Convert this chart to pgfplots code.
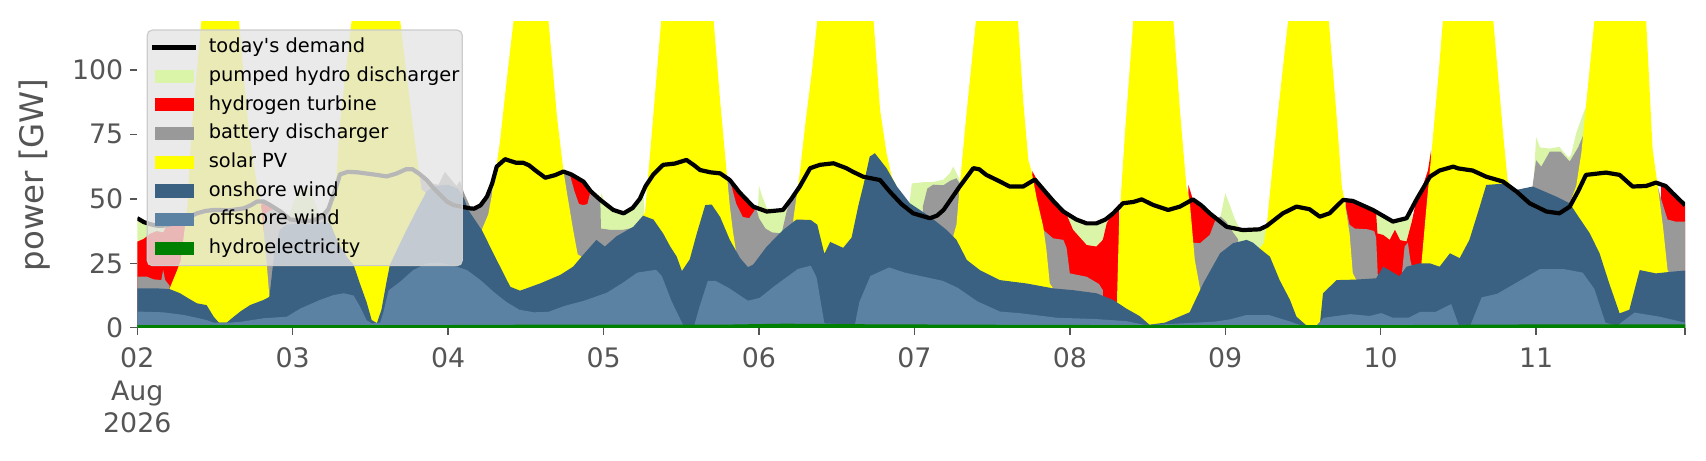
\documentclass[border=0pt]{standalone}
\usepackage{fontspec}
\setmainfont{DejaVu Sans}
\usepackage{pgfplots}
\pgfplotsset{compat=1.18}
\definecolor{phc}{RGB}{219,245,168}
\definecolor{hyc}{RGB}{255,0,0}
\definecolor{bac}{RGB}{153,153,153}
\definecolor{soc}{RGB}{255,255,0}
\definecolor{onc}{RGB}{59,97,130}
\definecolor{ofc}{RGB}{91,130,163}
\definecolor{hdc}{RGB}{0,128,0}
\definecolor{tickc}{RGB}{85,85,85}
\definecolor{legbg}{RGB}{229,229,229}
\definecolor{legedge}{RGB}{204,204,204}
\pgfplotsset{
  patchleg/.style={legend image code/.code={\fill[##1,fill opacity=1,draw=none,sharp corners] (0pt,-3.3pt) rectangle (19.5pt,3.3pt);}},
  lineleg/.style={legend image code/.code={\draw[##1,draw opacity=1,sharp corners] (-1.07pt,0pt) -- (20.57pt,0pt);}},
}
\begin{document}
\begin{tikzpicture}
\begin{axis}[
  scale only axis, width=773.85pt, height=152.9pt,
  xmin=0, xmax=239, ymin=0, ymax=118.6,
  axis lines*=left, axis line style={draw=none},
  tick pos=left, tick align=outside, major tick length=3.5pt,
  tick style={tickc, line width=0.7pt},
  xtick={0,24,48,72,96,120,144,168,192,216,239},
  xticklabels={{02\\Aug\\2026},03,04,05,06,07,08,09,10,11,{}},
  xticklabel style={font=\fontsize{13.4}{16.25}\selectfont, text=tickc, align=center, yshift=-3pt},
  ytick={0,25,50,75,100}, yticklabels={0,25,50,75,100},
  yticklabel style={font=\fontsize{13.4}{15}\selectfont, text=tickc},
  ylabel={power [GW]},
  every axis y label/.style={at={(axis description cs:-0.0661,0.5)}, rotate=90, anchor=center, font=\fontsize{16.2}{19}\selectfont, text=tickc},
  legend style={at={(0,1)}, anchor=north west, xshift=4.7pt, yshift=-3.75pt,
    fill=legbg, fill opacity=0.8, text opacity=1, draw=legedge, draw opacity=1,
    line width=0.6pt, rounded corners=2.5pt,
    font=\fontsize{9.7}{11}\selectfont,
    inner xsep=1.5pt, inner ysep=4.05pt, row sep=5.15pt,
    /tikz/every odd column/.append style={column sep=5.5pt},
    nodes={inner sep=0pt, text height=7.2pt, text depth=2pt}},
  legend cell align=left,
]
\addlegendimage{black, line width=2.1pt, lineleg}
\addlegendentry{today\textquotesingle s demand}
% pumped hydro discharger (cumulative top of stack)
\addplot[patchleg, fill=phc, draw=none] coordinates {
(0,42.3) (1,40.8) (2,40.2) (3,39.8) (4,39.8) (4.5,39.9) (4.6,0)
(23.2,0) (23.3,42.3) (24,48) (25,53) (26.5,55) (27.5,48) (28.2,43.5) (28.3,0)
(71.3,0) (71.4,49.6) (71.7,52.2) (72.2,48) (73.5,45.7) (75.1,44.4) (76.6,46.5) (77.6,49) (78.2,52) (78.4,0)
(95.8,0) (95.85,47) (96,55) (96.5,51) (97.2,46.5) (98.5,45.8) (99.7,46) (100.3,47.5) (100.4,0)
(119.1,0) (119.2,47.5) (119.6,56) (121.5,56.5) (122.9,56.5) (124.5,57.5) (125.5,60) (126,62.5) (126.5,60) (127,57.5) (127.2,0)
(143.4,0) (143.5,43.5) (144.5,42.3) (145,42) (146.6,40.8) (148.1,40.8) (149.5,42) (149.8,43) (149.9,0)
(167.2,0) (167.3,43.5) (168,52.2) (168.8,47) (169.5,42) (170.2,38.8) (172,38.3) (173.3,38.5) (174,39) (174.4,40) (174.5,0)
(191.2,0) (191.3,44.5) (192.4,42.8) (193.9,41.7) (195,42) (196,42.8) (196.8,45) (196.9,0)
(215.6,0) (215.7,60) (216,74) (216.6,70) (218.1,69.5) (219.6,70.2) (221,66) (221.4,67) (222.2,75.5) (223.2,82.6) (223.8,86) (223.9,0)
(239,0)
} \closedcycle;
\addlegendentry{pumped hydro discharger}
% hydrogen turbine
\addplot[patchleg, fill=hyc, draw=none] coordinates {
(0,33.4) (1,34.5) (2,36.5) (3,37.5) (4,37) (4.5,39.5) (5,39.8) (6,40.5) (7,41.2) (7.4,41.5) (7.5,0)
(18.9,0) (19.0,46.5) (19.3,48.8) (20.5,47.6) (21,46.8) (21.3,46.3) (21.4,0)
(66.7,0) (66.8,59.5) (67.5,59.2) (68.9,56.7) (69.5,55) (70,53) (70.1,0)
(91.3,0) (91.4,58.5) (92,56) (93,52.5) (94,49.5) (95.1,47) (95.6,46.5) (95.7,0)
(138.1,0) (138.2,60.8) (138.9,57.5) (140.4,52.2) (141.5,49) (143,45.3) (143.6,43.3) (144.5,38) (146.6,32.1) (148.1,31.5) (149.1,34.1) (149.7,40.5) (150.5,44.2) (151.3,47) (151.6,48) (151.8,0)
(162.2,0) (162.3,55.5) (163,49.8) (164.3,47.5) (165.6,44.4) (166.6,43.5) (166.7,0)
(186.5,0) (186.6,49.5) (187.5,49.3) (188.5,47.5) (190,46) (190.8,45.7) (191.3,44.5) (191.5,36.6) (192.4,36) (193.4,34.1) (194.2,38) (195,34) (196,33.5) (196.8,41) (197.5,49.6) (198.5,55) (199.3,61) (199.8,69) (200.1,0)
(235.2,0) (235.3,55.8) (236,55) (237.1,52.2) (238.7,48.3) (239,47.5)
} \closedcycle;
\addlegendentry{hydrogen turbine}
% battery discharger
\addplot[patchleg, fill=bac, draw=none] coordinates {
(0,19.8) (1.5,19.8) (2.5,18.8) (3.7,18.5) (4,22.4) (4.3,18.5) (5,16.3) (5.1,0)
(19.5,0) (19.6,44) (20.5,45.5) (21.3,46.2) (22.1,45) (23.3,42.3) (25,41.8) (27,41.8) (28,42.5) (28.5,43) (29.5,46) (30.3,50) (30.4,0)
(43.1,0) (43.2,57.5) (44,58.3) (44.7,57.3) (45.5,56) (46.5,55.5) (47.5,60.5) (48.3,58) (49.3,55) (49.8,57) (50.5,52) (51.4,47) (52,46.3) (53,47.5) (54,50.9) (54.8,56) (55.1,0)
(65.5,0) (65.6,61) (66.3,60) (66.8,59.3) (67.5,53) (68.2,48) (68.9,47.6) (69.5,48) (70,53) (71,51) (71.5,49.6) (71.6,38.5) (73,38) (75,38) (76.6,38.8) (77.6,41.5) (77.7,0)
(90.9,0) (91,58) (91.5,57.3) (92.5,48) (93.5,43) (94.5,42.5) (95.3,45.5) (95.6,46.5) (96,42.5) (97,38.5) (98,37) (99.5,36.6) (100.3,45.5) (101,50) (102,54.5) (102.1,0)
(121.2,0) (121.3,47) (122,54) (122.9,55.5) (124.5,55.3) (125.5,57) (126.5,58) (127,56) (127.1,0)
(139,0) (139.1,45) (139.9,38) (141.4,34.7) (143,34.1) (143.5,31) (144,21.1) (146.6,19.8) (148.5,17) (149.1,14.6) (149.2,0)
(162.9,0) (163,33) (164.1,32.8) (165.6,36) (166.6,42.5) (167.3,43.1) (168.2,41) (169.2,37) (170,34.3) (170.1,0)
(186.3,0) (186.4,49.6) (187.2,40) (188,38.5) (190,38.2) (191,37.5) (191.3,35) (191.6,18) (195.2,19) (195.7,31.5) (196.2,33) (196.6,26) (197,22) (197.1,0)
(215.3,0) (215.4,54) (216,65) (216.8,62.5) (218.1,68.3) (219.8,68.3) (221.2,64.5) (222.5,70) (223.5,76) (223.8,0)
(234.7,0) (234.8,54.8) (235.3,50) (236.3,42) (237.5,41.2) (239,41.2)
} \closedcycle;
\addlegendentry{battery discharger}
% solar PV
\addplot[patchleg, fill=soc, draw=none] coordinates {
(0,0) (4.9,0) (5.0,15.3) (6.1,22) (6.7,26) (7.7,46) (8.4,77) (9.9,119) (12.8,150) (15.7,119) (16.5,96) (17.2,77) (18.2,60) (19.2,45.7) (20,24.4) (20.4,12) (20.5,0)
(29.3,0) (29.4,40.5) (30.3,50) (30.8,60) (31.2,77) (32.2,100) (33.1,119) (36.9,155) (40.6,119) (41.6,98) (42.6,77) (43.9,53.5) (44.5,52.5) (44.6,0)
(53.1,0) (53.2,38) (54.2,44) (55,55) (56,72) (57,95) (58.1,119) (60.8,150) (63.5,119) (64.8,82) (65.8,61) (66.5,50) (67.3,38) (68,28.5) (68.6,27.6) (68.7,0)
(78.0,0) (78.1,43.5) (78.4,44.8) (79.2,68) (80,92) (80.9,119) (85,150) (89,119) (90,88) (90.8,66) (91.5,47) (92,37) (92.5,29) (93,27) (93.1,0)
(101.2,0) (101.3,42) (102.3,60) (103.2,80) (104.2,100) (105,119) (109.4,150) (113.7,119) (114.7,84.5) (115.7,67.7) (116.5,58.6) (117.3,54.8) (117.4,0)
(125.9,0) (126,35.5) (126.5,40) (127,55) (128,82) (129.5,119) (132.8,150) (136,119) (136.8,88) (137.6,65) (138.1,60.6) (138.9,50) (139.9,39.2) (140.4,30) (140.9,17.2) (141.4,15.3) (141.5,0)
(151.2,0) (151.3,12) (151.6,40) (152.5,75) (153.8,119) (156.9,150) (160,119) (161,84.5) (162,54.8) (162.5,49.5) (163.3,26.3) (164.1,15.3) (164.4,14) (164.5,0)
(173.2,0) (173.3,30.8) (174,33) (174.5,42) (176,80) (177.7,119) (180.9,150) (184,119) (185.2,82) (186,54.8) (186.4,49.6) (187.2,36.6) (187.7,21.1) (188.2,18.7) (188.3,0)
(198.2,0) (198.3,25) (199,45) (200,72) (201,100) (201.6,119) (205.5,150) (209.4,119) (210.9,75.5) (211.6,57.3) (212,55.5) (212.1,0)
(221.1,0) (221.2,48.3) (222.2,55) (223,68) (223.7,86) (224.3,101) (225,119) (229,150) (233,119) (234,69) (234.8,54.8) (235.6,39.2) (236.3,22.4) (236.5,21.5) (236.6,0) (239,0)
} \closedcycle;
\addlegendentry{solar PV}
% onshore wind
\addplot[patchleg, fill=onc, draw=none] coordinates {
(0,15.3) (3,15.3) (5,15) (6.6,13.4) (7.9,11.4) (9.2,9.5) (10.7,8.8) (11.8,4.3) (12.6,2) (13.8,2) (14.9,4.3) (15.9,6.3) (17.4,8.8) (19.5,10.8) (20.4,12) (21.2,30) (22,38) (23,40) (25,40.5) (27,40) (28.5,41) (29.8,40.5) (31,33) (32.5,27) (33.4,24.4) (34.4,17) (35.4,10) (36.2,3) (37,1.8) (37.7,7) (38.5,18) (39,24.4) (41,35) (43,45) (44.7,53) (46,55) (48,55.5) (49.5,54) (50.5,50) (51.1,45.7) (53.2,37.9) (55.5,26.3) (57.6,15.9) (59.1,14.4) (62.2,17.2) (65.3,20.5) (67.3,23.7) (68.6,27.6) (70.9,34.1) (72.2,31.5) (74,35.5) (76.6,39.2) (78.1,43.5) (79.7,42) (81.2,36.6) (82.3,31.5) (83.3,27.6) (84.1,22) (85.3,26.5) (86.4,36.6) (87.7,47.6) (88.7,47.8) (90,43) (91.5,34.1) (93.1,27) (94.3,23.5) (95.1,24.5) (97.2,31.5) (99.7,37.9) (101.8,42) (104,41.8) (105,40) (106.1,28.7) (107,33.3) (109,31) (110.3,35) (111.4,48) (112.1,55) (113.1,66.4) (113.9,67.7) (115.7,61.9) (117.3,54.8) (119.3,48.3) (122.4,43.1) (125,37.9) (126.5,34.1) (128.1,26.3) (130.1,22.4) (133.2,18.5) (137.3,17.2) (141.4,15.3) (144.5,14.6) (148.1,13.4) (150.7,10.8) (152.7,7.5) (154.8,4.5) (156.3,1.2) (158.7,2) (162.5,6) (164.6,17.2) (167.2,28.9) (169.2,32.8) (171.3,34.1) (172.3,33) (173.3,30.8) (174.9,27.6) (176.4,18.5) (178,10.8) (179,4.3) (180.5,1) (182.6,1) (183.1,13.4) (185.2,18.5) (188.2,18.7) (191.3,19.2) (192.4,23.7) (194.9,20) (196,23.7) (198,25) (199.6,25) (201.1,23.7) (202.7,28.9) (204.2,27) (205.7,34.1) (207.3,47) (208.3,55.4) (211.4,56) (213,53.5) (215.5,54.8) (219.1,50.9) (221.2,48.3) (222.2,44.4) (224.3,36.6) (225.8,28.9) (227.3,17.2) (228.9,5.6) (230.4,7) (232,22.4) (234.5,21.1) (237.1,21.8) (239,22.2)
} \closedcycle;
\addlegendentry{onshore wind}
% offshore wind
\addplot[patchleg, fill=ofc, draw=none] coordinates {
(0,6.3) (4,6) (7.1,5) (9,4) (10.7,3) (11.8,2) (14.3,2) (15.9,2.3) (19.5,3.7) (23.1,4.3) (25.2,7.5) (28.2,10.8) (30.3,12.7) (31.9,13.4) (33.4,12.5) (34.4,8.2) (35.4,3) (36.2,1.7) (37.5,2) (38,6) (38.8,14.5) (40.6,17.9) (42.6,22.4) (44.7,25) (46.8,25.3) (49.3,23.7) (50.9,22.4) (53,18.5) (55,14) (57,10) (59,7) (61.3,6) (63.5,6.2) (66,8.5) (69,10.5) (72.5,13.6) (75,17.5) (77.2,21.4) (80.1,22.5) (81,20.1) (82.5,10.3) (84.3,1) (86,0.9) (86.8,8) (88.1,18.2) (89.3,18.2) (91.3,15.5) (94.3,10.5) (96.1,11.6) (98.4,16.2) (102,22.8) (104,24.1) (104.9,19.5) (106.1,1.7) (110.8,1.1) (111.5,10) (113.2,20.1) (116.1,23.4) (118.5,21.4) (124.4,18.2) (126.7,15.5) (129.7,10.3) (133.2,6.3) (136.2,5.7) (142,3.9) (147.9,3.4) (152.7,2.6) (155.6,1.1) (158.1,1.3) (163.5,2) (166.4,2.4) (168.8,3.3) (171.2,4.9) (174.8,4.9) (177.8,2.6) (179.3,1.3) (180.8,0.6) (182,0.6) (183.2,3.9) (187.3,5.3) (190.3,4.6) (192.1,5.7) (193.9,3.9) (196.3,3.9) (198.1,6.2) (200.5,6.2) (202.9,9.2) (204.1,0.8) (205.8,0.6) (207.6,11.8) (210,13.2) (214.2,19.3) (216.6,22.8) (220.2,22.8) (223.2,21.4) (225,15.1) (226.7,2) (228.5,0.8) (231.2,5.9) (235.1,4.3) (239,2)
} \closedcycle;
\addlegendentry{offshore wind}
% hydroelectricity
\addplot[patchleg, fill=hdc, draw=none] coordinates {
(0,1) (40,1) (60,1.2) (90,1.2) (100,1.6) (110,1.4) (130,1.2) (160,1) (190,1) (215,1.3) (239,1.3)
} \closedcycle;
\addlegendentry{hydroelectricity}
% today's demand
\addplot[black, line width=2.1pt, line join=round, forget plot] coordinates {
(0,42.5) (1,41) (2,40.2) (3,39.6) (4,39.6) (5,40) (6,40.8) (7,41.5) (8,43) (9.2,44.4) (10.5,45.3) (11.8,45.7) (14.3,45.6) (16.4,46.3) (17.5,47.5) (18.5,49) (19.5,49) (20.5,47.6) (22.1,45.1) (23.6,42) (25.5,41.5) (27,41.5) (28.5,43) (29.5,46) (30.5,53) (31.3,59.5) (32.5,60.5) (34,60.3) (35.5,59.8) (37,59.3) (38.5,58.7) (40,59.8) (41.5,61.5) (42.5,61.5) (43.5,59.8) (44.7,57.3) (45.8,54) (46.8,51.5) (47.8,49) (48.8,47.6) (50,47) (51.4,46.3) (52,46.2) (53,47.5) (54,50.9) (54.8,56) (55.5,62.5) (56.8,65.4) (57.5,64.8) (58.5,64) (59.6,64) (60.5,63) (61.5,61) (63,58.2) (64.5,59.2) (65.8,60.6) (67,59.5) (68.9,56.7) (70,53) (71.5,49.6) (73.5,45.7) (75.1,44.4) (76.5,46.5) (77.6,50) (78.5,55) (79.7,59.5) (81.2,63.2) (83,63.7) (84.8,65.1) (86,63) (86.9,61.2) (88.5,60.3) (90,59.9) (91.5,57.3) (93,52.5) (95.1,47) (97.2,45.1) (99.7,45.7) (101,50) (102.3,54.8) (103.9,61.9) (105.4,63.2) (107.5,63.8) (109.5,61.9) (110.5,60.5) (112.1,58.6) (114.7,57.3) (116.2,52.8) (118,48) (119.8,44.4) (122.4,42.5) (123.5,43.5) (124.5,45.7) (127,54.8) (129.1,61.9) (130,61.5) (131.1,59.3) (133,57) (134.7,54.8) (136.8,54.8) (138.6,57.5) (140.4,52.2) (141.5,49) (143,45.1) (145,42) (146.6,40.5) (148.1,40.5) (149.5,42) (150.7,44.4) (152.2,48.3) (153.8,48.8) (155.1,49.8) (156.9,47.6) (159.2,45.7) (161,47) (163,49.8) (164.3,47.5) (165.6,44.4) (168.2,39.2) (170.7,37.9) (173.3,38.2) (174.4,39.5) (176.9,44.4) (179,47) (181,46) (182.6,43.1) (184.1,44.4) (186.2,49.6) (187.7,49.2) (190.8,45.7) (193.9,41.2) (196,42.5) (197.5,49.6) (199.6,58.6) (201.1,61) (203.2,62.5) (204,61.8) (206.2,61) (208.3,58.6) (210.9,56.7) (213,52.8) (215,48.3) (217.6,45.1) (219.6,44.4) (221.2,47) (222.5,53) (223.7,59.3) (226.8,60.2) (228.9,59.3) (230.9,54.8) (233,55) (234.5,56.3) (236,55) (237.1,52.2) (238.7,48.3) (239,47.5)
};
\end{axis}
\pgfresetboundingbox
\useasboundingbox ([xshift=-68.65pt,yshift=-66.1pt]current axis.south west) rectangle ([xshift=10.5pt,yshift=11pt]current axis.north east);
\end{tikzpicture}
\end{document}
